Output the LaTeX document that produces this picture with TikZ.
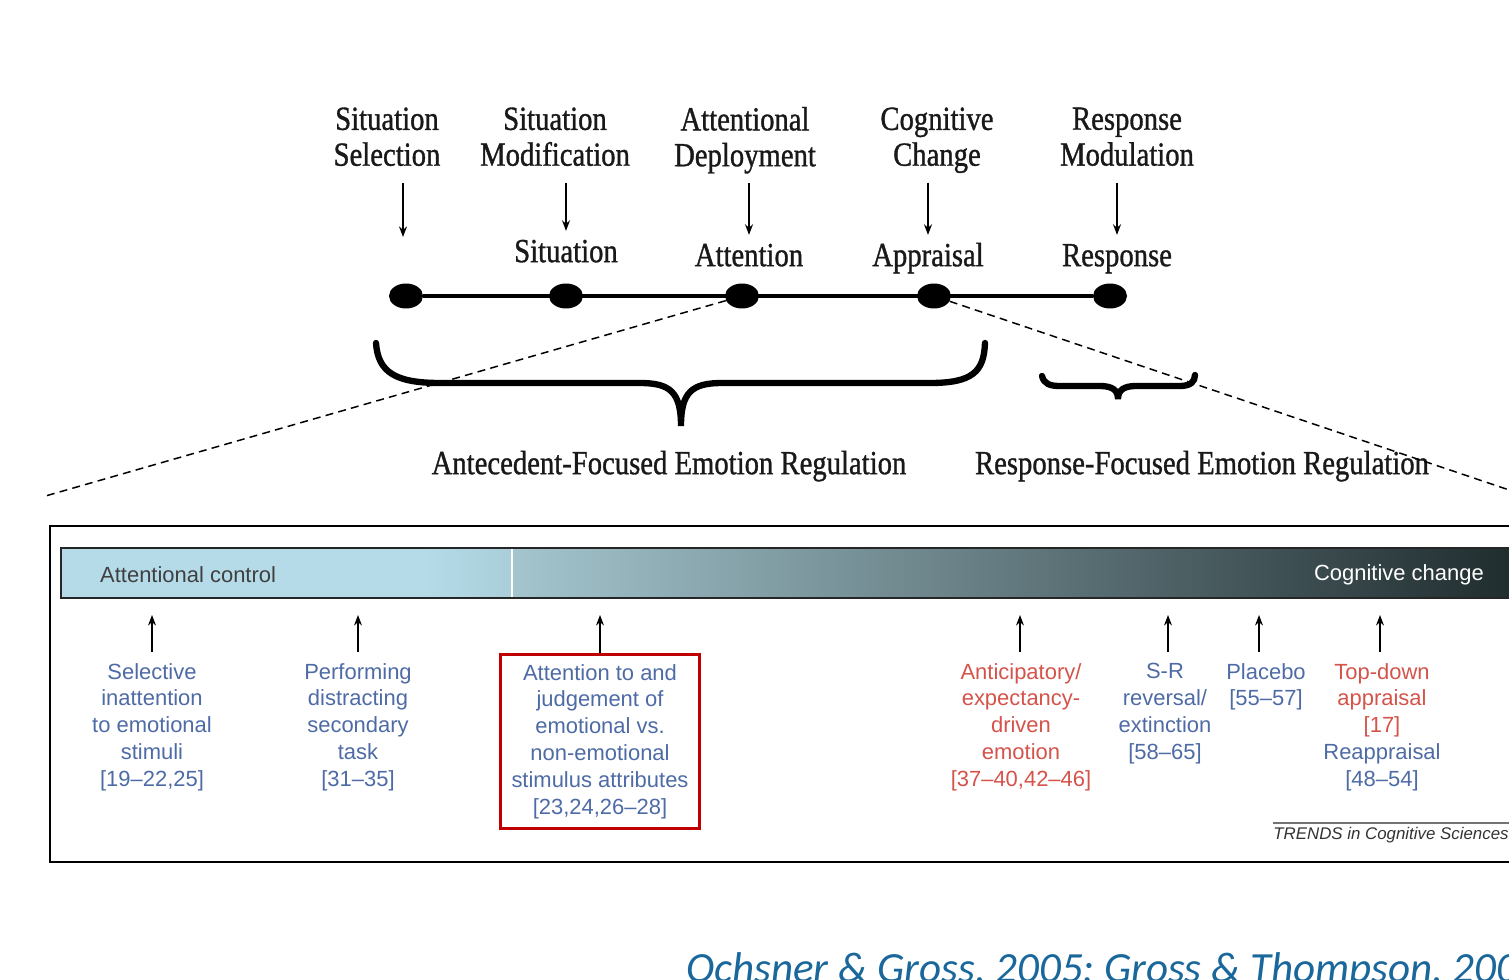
\documentclass[tikz,border=0pt]{standalone}
\usepackage{fontspec}
\setmainfont{Liberation Serif}
\setsansfont{Liberation Sans}
\newfontfamily\stagefont[FakeStretch=0.85, FakeBold=1]{Liberation Serif}
\newfontfamily\citefont{Carlito}
\usetikzlibrary{shapes.geometric,arrows.meta}
\definecolor{refblue}{HTML}{4E6BA6}
\definecolor{refred}{HTML}{D4534A}
\definecolor{boxred}{HTML}{C00000}
\definecolor{barlight}{HTML}{B5DBE8}
\definecolor{barfade}{HTML}{A9CEDA}
\definecolor{barmid}{HTML}{A4C5CE}
\definecolor{barcentre}{HTML}{657D82}
\definecolor{bardark}{HTML}{1E2A2C}
\definecolor{citeblue}{HTML}{1A679B}
\tikzset{
  stage/.style={font=\stagefont\fontsize{19.2}{20.4}\selectfont, align=center, text=black!90,
    execute at begin node=\strut, execute at end node=\strut},
  dot/.style={ellipse, fill=black, minimum width=0.68cm, minimum height=0.5cm, inner sep=0pt},
  down/.style={-{Stealth[length=6pt,width=4.5pt]}, line width=1pt},
  up/.style={-{Stealth[length=6pt,width=4.5pt]}, line width=0.7pt},
  brace/.style={line width=3.6pt, line cap=round},
  guide/.style={dashed, dash pattern=on 4.5pt off 3pt, line width=0.85pt},
  item/.style={font=\sffamily\fontsize{12.5}{15.3}\selectfont, align=center, anchor=north, inner sep=1pt},
}
\begin{document}
\begin{tikzpicture}[x=0.02cm, y=-0.02cm]
  \useasboundingbox (0,0) rectangle (1509,980);
  \clip (0,0) rectangle (1509,980);

  \node[stage] (selSel) at (387,142) {Situation\\Selection};
  \node[stage] (selMod) at (555,142) {Situation\\Modification};
  \node[stage] (attDep) at (745,142) {Attentional\\Deployment};
  \node[stage] (cogChg) at (937,142) {Cognitive\\Change};
  \node[stage] (respMod) at (1127,142) {Response\\Modulation};

  \node[stage] (situ) at (566,255) {Situation};
  \node[stage] (atten) at (749,259) {Attention};
  \node[stage] (appr) at (928,259) {Appraisal};
  \node[stage] (resp) at (1117,259) {Response};
  \coordinate (selEnd) at (403,237);

  \draw[down] (selSel.south -| selEnd) -- (selEnd);
  \draw[down] (selMod.south -| situ.north) -- (situ.north);
  \draw[down] (attDep.south -| atten.north) -- (atten.north);
  \draw[down] (cogChg.south -| appr.north) -- (appr.north);
  \draw[down] (respMod.south -| resp.north) -- (resp.north);

  \node[dot] (d1) at (406,296) {};
  \node[dot] (d2) at (566,296) {};
  \node[dot] (d3) at (742,296) {};
  \node[dot] (d4) at (934,296) {};
  \node[dot] (d5) at (1110,296) {};
  \draw[line width=2.3pt] (d1) -- (d5);

  \draw[brace] (376,343) .. controls (378,372) and (395,383) .. (440,383) -- (640,383)
    .. controls (670,383) and (681,392) .. (681,426)
    .. controls (681,392) and (692,383) .. (722,383) -- (930,383)
    .. controls (972,383) and (984,372) .. (985,343);
  \draw[brace] (1042,376) .. controls (1044,384) and (1050,386) .. (1060,386) -- (1100,386)
    .. controls (1112,386) and (1118,390) .. (1118,399)
    .. controls (1118,390) and (1124,386) .. (1136,386) -- (1180,386)
    .. controls (1190,386) and (1195,382) .. (1195,375);

  \node[stage] (antReg) at (669,467) {Antecedent-Focused Emotion Regulation};
  \node[stage] (respReg) at (1202,467) {Response-Focused Emotion Regulation};

  \coordinate (zoomL) at (42,497);
  \coordinate (zoomR) at (1530,497);
  \draw[guide] (d3) -- (zoomL);
  \draw[guide] (d4) -- (zoomR);

  \draw[line width=1.7pt] (50,526) rectangle (1540,862);

  \fill[barlight] (61,548) rectangle (425,598);
  \shade[left color=barlight, right color=barfade] (425,548) rectangle (512,598);
  \shade[left color=barmid, middle color=barcentre, right color=bardark] (512,548) rectangle (1530,598);
  \draw[white, line width=1pt] (512,549) -- (512,597);
  \draw[black!85, line width=1.2pt] (61,548) rectangle (1530,598);
  \node[anchor=west, font=\sffamily\fontsize{12.5}{15}\selectfont, text=black!75] (attCtl) at (94,575) {Attentional control};
  \node[anchor=east, font=\sffamily\fontsize{12.5}{15}\selectfont, text=white] (cogCtl) at (1490,575) {Cognitive change};

  \node[item, text=refblue] (selIn) at (152,661) {Selective\\inattention\\to emotional\\stimuli\\{[}19--22,25{]}};
  \node[item, text=refblue] (distr) at (358,661) {Performing\\distracting\\secondary\\task\\{[}31--35{]}};
  \node[item, text=refblue, draw=boxred, line width=1.7pt, minimum width=4cm, inner ysep=5.5pt] (judge) at (600,653) {Attention to and\\judgement of\\emotional vs.\\non-emotional\\stimulus attributes\\{[}23,24,26--28{]}};
  \node[item, text=refred] (antic) at (1021,661) {Anticipatory/\\expectancy-\\driven\\emotion\\{[}37--40,42--46{]}};
  \node[item, text=refblue] (srRev) at (1165,661) {S-R\\reversal/\\extinction\\{[}58--65{]}};
  \node[item, text=refblue] (placebo) at (1266,661) {Placebo\\{[}55--57{]}};
  \node[item, text=refred] (topDown) at (1382,661) {Top-down\\appraisal\\{[}17{]}\\\textcolor{refblue}{Reappraisal}\\\textcolor{refblue}{{[}48--54{]}}};

  \coordinate (u1) at (152,615);
  \coordinate (u2) at (358,615);
  \coordinate (u3) at (600,615);
  \coordinate (u4) at (1020,615);
  \coordinate (u5) at (1168,615);
  \coordinate (u6) at (1259,615);
  \coordinate (u7) at (1380,615);
  \foreach \n/\u in {selIn/u1, distr/u2, antic/u4, srRev/u5, placebo/u6, topDown/u7}
    \draw[up, shorten <=5pt] (\u |- \n.north) -- (\u);
  \draw[up] (judge.north) -- (u3);

  \draw[black!55, line width=0.6pt] (1273,823) -- (1520,823);
  \node[anchor=west, inner sep=0pt, font=\sffamily\itshape\fontsize{9.6}{11}\selectfont, text=black!80] (trends) at (1273,835) {TRENDS in Cognitive Sciences};

  \node[anchor=base west, inner sep=0pt, font=\citefont\itshape\fontsize{24.5}{29}\selectfont, text=citeblue] (cite) at (686,982) {Ochsner \& Gross, 2005; Gross \& Thompson, 2007};
\end{tikzpicture}
\end{document}
